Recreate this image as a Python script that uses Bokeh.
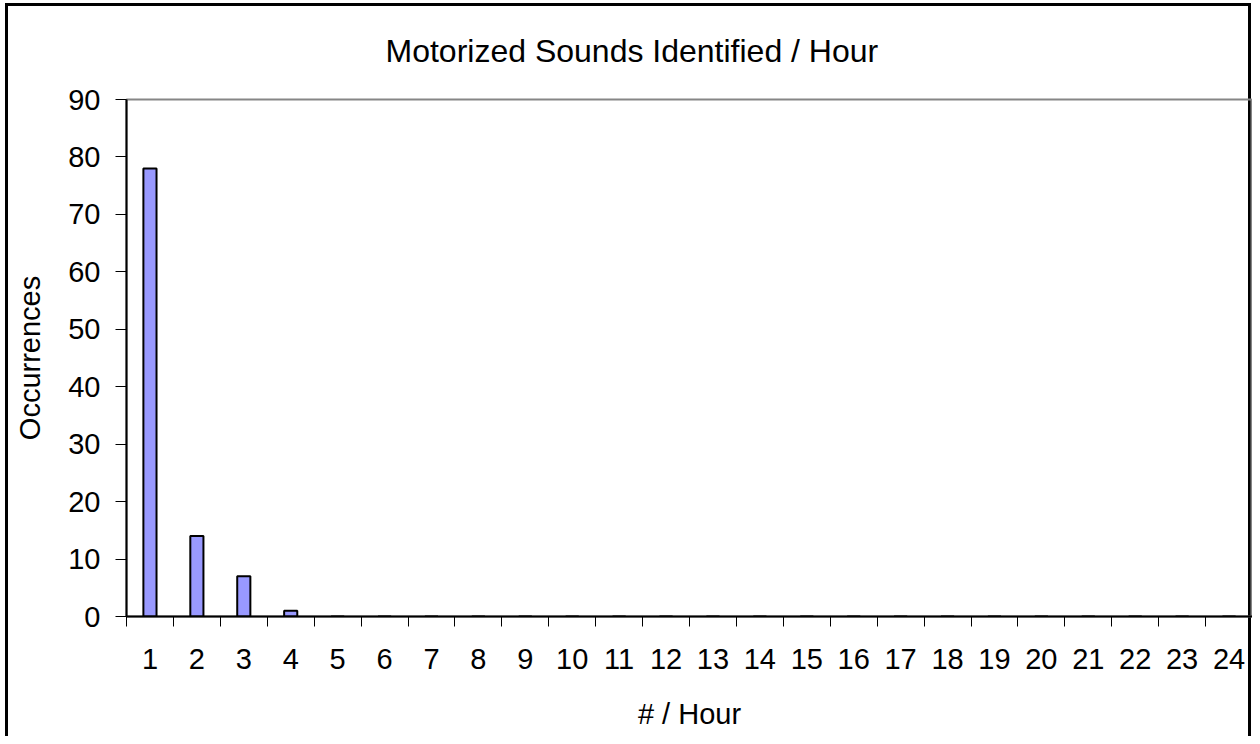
from bokeh.plotting import figure
from bokeh.models import Range1d, FixedTicker, ColumnDataSource
from bokeh.embed import file_html
from bokeh.resources import INLINE

# ---- data ----
hours = [1, 2, 3, 4, 5, 6, 7, 8, 9, 10, 11, 12, 13, 14, 15, 16, 17, 18, 19, 20, 21, 22, 23, 24]
counts = [78, 14, 7, 1, 0, 0, 0, 0, 0, 0, 0, 0, 0, 0, 0, 0, 0, 0, 0, 0, 0, 0, 0, 0]
y_ticks = [0, 10, 20, 30, 40, 50, 60, 70, 80, 90]
title_text = "Motorized Sounds Identified / Hour"
x_title = "# / Hour"
y_title = "Occurrences"

FONT = "Liberation Sans"

p = figure(width=1252, height=736, output_backend="svg", toolbar_location=None,
           x_range=Range1d(0.5, 24.5), y_range=Range1d(0, 90),
           min_border_left=126, min_border_right=0, min_border_top=99, min_border_bottom=120)

# outer chart border: black lines painted behind a transparent canvas
line = "linear-gradient(#000, #000)"
p.styles = {
    "background-color": "white",
    "background-image": ", ".join([line] * 3),
    "background-position": "5px 3px, 5px 3px, 1248px 3px",
    "background-size": "3px 800px, 1246px 3px, 3px 800px",
    "background-repeat": "no-repeat",
}

src = ColumnDataSource(dict(x=hours, top=counts))
p.vbar(x="x", top="top", width=0.28, bottom=0, source=src,
       fill_color="#9999FF", line_color="black", line_width=2)

p.xgrid.visible = False
p.ygrid.visible = False
p.background_fill_alpha = 0
p.border_fill_alpha = 0
p.outline_line_color = "#868686"
p.outline_line_width = 2

# title
p.title.text = title_text
p.title.align = "left"
p.title.offset = 259
p.title.standoff = 61
p.title.text_font = FONT
p.title.text_font_size = "32px"
p.title.text_font_style = "normal"
p.title.text_color = "black"

# x axis: labels at centres, ticks at category boundaries
xa = p.xaxis[0]
xa.ticker = FixedTicker(ticks=hours, minor_ticks=[h - 0.5 for h in hours] + [hours[-1] + 0.5])
xa.major_tick_out = 0
xa.major_tick_in = 0
xa.minor_tick_out = 10
xa.minor_tick_in = 0
xa.minor_tick_line_color = "black"
xa.minor_tick_line_width = 1
xa.axis_line_color = "black"
xa.axis_line_width = 2
xa.major_label_text_font = FONT
xa.major_label_text_font_size = "29px"
xa.major_label_text_color = "black"
xa.major_label_standoff = 22
xa.axis_label = x_title
xa.axis_label_text_font = FONT
xa.axis_label_text_font_size = "29px"
xa.axis_label_text_font_style = "normal"
xa.axis_label_text_color = "black"
xa.axis_label_standoff = 26

ya = p.yaxis[0]
ya.ticker = FixedTicker(ticks=y_ticks, minor_ticks=[])
ya.major_tick_out = 11
ya.major_tick_in = 0
ya.major_tick_line_color = "black"
ya.major_tick_line_width = 1
ya.minor_tick_out = 0
ya.minor_tick_in = 0
ya.axis_line_color = "black"
ya.axis_line_width = 2
ya.major_label_text_font = FONT
ya.major_label_text_font_size = "29px"
ya.major_label_text_color = "black"
ya.major_label_standoff = 15
ya.axis_label = y_title
ya.axis_label_text_font = FONT
ya.axis_label_text_font_size = "29px"
ya.axis_label_text_font_style = "normal"
ya.axis_label_text_color = "black"
ya.axis_label_standoff = 19

open("out.html", "w").write(file_html(p, INLINE))
